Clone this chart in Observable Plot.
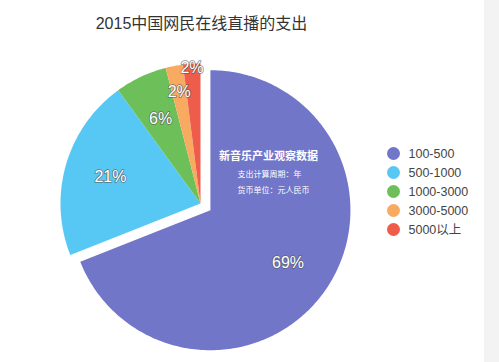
<!DOCTYPE html>
<html>
<head>
<meta charset="utf-8">
<script src="https://cdn.jsdelivr.net/npm/d3@7"></script>
<script src="https://cdn.jsdelivr.net/npm/@observablehq/plot@0.6"></script>
<style>
  html, body { margin: 0; padding: 0; }
  body { width: 499px; height: 362px; overflow: hidden;
         background: linear-gradient(to right, #ffffff 484px, #f3f3f3 484px); }
</style>
</head>
<body>
<div id="chart"></div>
<script>
const title = "2015中国网民在线直播的支出";
const categories = ["100-500", "500-1000", "1000-3000", "3000-5000", "5000以上"];
const shares = [69, 21, 6, 2, 2];
const shareLabels = ["69%", "21%", "6%", "2%", "2%"];
const colors = ["#7176c9", "#57c8f4", "#6dbf59", "#f8aa60", "#ee5d4c"];
const noteHead = "新音乐产业观察数据";
const noteLines = ["支出计算周期：年", "货币单位：元人民币"];

// layout
const W = 499, H = 362;
const cx = 200, cy = 203, R = 140, explode = 12;
const labelRadius = [0.67, 0.67, 0.67, 0.81, 0.97];
const font = "'Liberation Sans', 'Noto Sans CJK SC', sans-serif";

const arcs = d3.pie().sort(null).value(d => d)(shares);
const slicePts = [];
const labelPts = [];
arcs.forEach((a, i) => {
  const mid = (a.startAngle + a.endAngle) / 2;
  const off = i === 0 ? explode : 0;
  const ox = cx + off * Math.sin(mid), oy = cy - off * Math.cos(mid);
  const cat = categories[i];
  slicePts.push({cat, x: ox, y: oy});
  const n = Math.max(2, Math.ceil((a.endAngle - a.startAngle) / (Math.PI / 180)));
  for (let k = 0; k <= n; k++) {
    const t = a.startAngle + (a.endAngle - a.startAngle) * k / n;
    slicePts.push({cat, x: ox + R * Math.sin(t), y: oy - R * Math.cos(t)});
  }
  slicePts.push({cat, x: ox, y: oy});
  const lr = R * labelRadius[i];
  labelPts.push({label: shareLabels[i], x: ox + lr * Math.sin(mid), y: oy - lr * Math.cos(mid)});
});

const legend = categories.map((c, i) => ({cat: c, x: 393, y: 153 + i * 19}));

const plot = Plot.plot({
  width: W, height: H,
  margin: 0,
  x: {domain: [0, W], range: [0, W], axis: null},
  y: {domain: [0, H], range: [0, H], axis: null},
  color: {domain: categories, range: colors},
  style: {background: "transparent", fontFamily: font},
  marks: [
    Plot.line(slicePts, {x: "x", y: "y", z: "cat", fill: "cat", stroke: null}),
    Plot.text(labelPts, {x: "x", y: "y", text: "label", fill: "white",
      stroke: "#555", strokeWidth: 1.6, strokeOpacity: 0.7, fontSize: 16, fontFamily: font}),
    Plot.text([noteHead], {x: cx + 68, y: cy - 47, text: d => d, fill: "white",
      fontSize: 11, fontWeight: "bold", fontFamily: font}),
    Plot.text(noteLines, {x: cx + 37, y: (d, i) => cy - 29 + i * 16, text: d => d, fill: "white",
      fontSize: 8, textAnchor: "start", fontFamily: font}),
    Plot.text([title], {x: cx + 1, y: 23, text: d => d, fill: "#333",
      fontSize: 16, fontWeight: "normal", fontFamily: font}),
    Plot.dot(legend, {x: "x", y: "y", r: 6.5, fill: "cat", stroke: null}),
    Plot.text(legend, {x: "x", y: "y", dx: 15, text: "cat", textAnchor: "start",
      fill: "#444", fontSize: 12.5, fontFamily: font})
  ]
});
document.getElementById("chart").appendChild(plot);
</script>
</body>
</html>
